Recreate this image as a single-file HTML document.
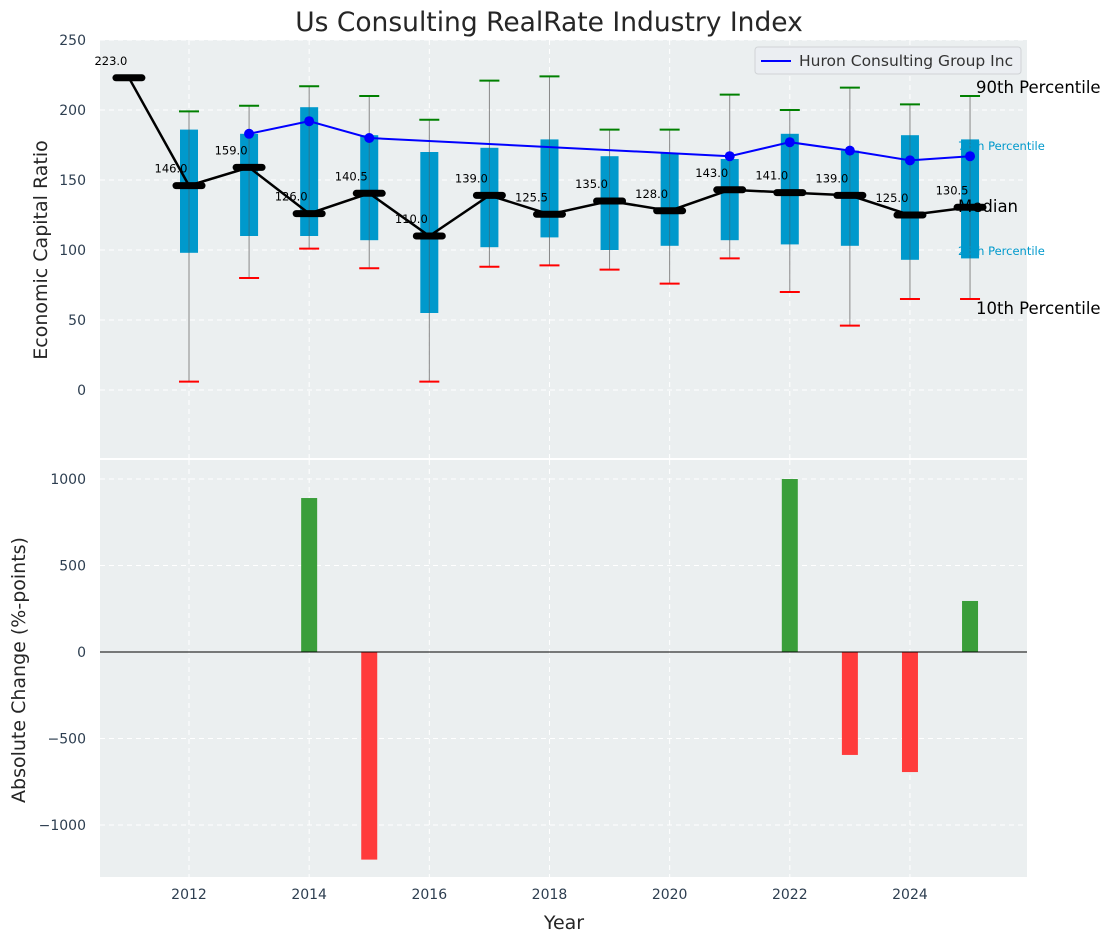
<!DOCTYPE html>
<html><head><meta charset="utf-8"><style>
body{margin:0;background:#fff;}
svg{display:block;font-family:"DejaVu Sans","Liberation Sans",sans-serif;}
</style></head><body>
<svg id="chart" width="1111" height="942" xmlns="http://www.w3.org/2000/svg"></svg>
<script>
const years=[2011,2012,2013,2014,2015,2016,2017,2018,2019,2020,2021,2022,2023,2024,2025];
const medians=[223,146,159,126,140.5,110,139,125.5,135,128,143,141,139,125,130.5];
const p25=[null,98,110,110,107,55,102,109,100,103,107,104,103,93,94];
const p75=[null,186,183,202,182,170,173,179,167,169,165,183,171,182,179];
const p90=[null,199,203,217,210,193,221,224,186,186,211,200,216,204,210];
const p10=[null,6,80,101,87,6,88,89,86,76,94,70,46,65,65];
const huronYears=[2013,2014,2015,2021,2022,2023,2024,2025];
const huronVals=[183,192,180,167,177,171,164,167];
const changeYears=[2014,2015,2022,2023,2024,2025];
const changeVals=[890,-1200,1000,-595,-694,295];
const topTicks=[0,50,100,150,200,250];
const botTicks=[-1000,-500,0,500,1000];
const xTicks=[2012,2014,2016,2018,2020,2022,2024];

const NS="http://www.w3.org/2000/svg";
const svg=document.getElementById('chart');
function el(tag,attrs,parent){const e=document.createElementNS(NS,tag);for(const k in attrs)e.setAttribute(k,attrs[k]);(parent||svg).appendChild(e);return e;}
const X0=100,X1=1027;
const x=v=>189+(v-2012)*60.08;
const yT=v=>390-v*1.4;
const yB=v=>652-v*0.173;

let t=el('text',{x:549,y:31,'text-anchor':'middle','font-size':26.5,fill:'#262626'});t.textContent='Us Consulting RealRate Industry Index';



let p1=el('rect',{x:X0,y:40,width:X1-X0,height:418,fill:'#ebeff0'});


let p2=el('rect',{x:X0,y:460,width:X1-X0,height:417,fill:'#ebeff0'});



xTicks.forEach(v=>{
  el('line',{x1:x(v),x2:x(v),y1:40,y2:458,stroke:'#fff','stroke-dasharray':'5,4','stroke-width':1});
  el('line',{x1:x(v),x2:x(v),y1:460,y2:877,stroke:'#fff','stroke-dasharray':'5,4','stroke-width':1});
  let tl=el('text',{x:x(v),y:899,'text-anchor':'middle','font-size':14,fill:'#2d3e50'});tl.textContent=v;
  
  
});
topTicks.forEach(v=>{
  el('line',{x1:X0,x2:X1,y1:yT(v),y2:yT(v),stroke:'#fff','stroke-dasharray':'5,4'});
  let tl=el('text',{x:86,y:yT(v)+5,'text-anchor':'end','font-size':14,fill:'#2d3e50'});tl.textContent=v;
  
  
});
botTicks.forEach(v=>{
  el('line',{x1:X0,x2:X1,y1:yB(v),y2:yB(v),stroke:'#fff','stroke-dasharray':'5,4'});
  let tl=el('text',{x:86,y:yB(v)+5,'text-anchor':'end','font-size':14,fill:'#2d3e50'});tl.textContent=v<0?'\u2212'+Math.abs(v):v;
  
  
});

years.forEach((yr,i)=>{
  if(p25[i]===null)return;
  const cx=x(yr);
  el('line',{x1:cx,x2:cx,y1:yT(p90[i]),y2:yT(p10[i]),stroke:'#888','stroke-width':1});
  let b=el('rect',{x:cx-9,y:yT(p75[i]),width:18,height:yT(p25[i])-yT(p75[i]),fill:'#0099cc'});
  
  
  el('line',{x1:cx,x2:cx,y1:yT(p75[i]),y2:yT(p25[i]),stroke:'#555','stroke-width':1,opacity:0.5});
  let g=el('line',{x1:cx-10,x2:cx+10,y1:yT(p90[i]),y2:yT(p90[i]),stroke:'green','stroke-width':2});
  
  
  let r=el('line',{x1:cx-10,x2:cx+10,y1:yT(p10[i]),y2:yT(p10[i]),stroke:'red','stroke-width':2});
  
  
});

let hl=el('polyline',{points:huronYears.map((yr,i)=>x(yr)+','+yT(huronVals[i])).join(' '),fill:'none',stroke:'blue','stroke-width':2});


huronYears.forEach((yr,i)=>{
  let c=el('circle',{cx:x(yr),cy:yT(huronVals[i]),r:5,fill:'blue'});
  
  
});

let ml=el('polyline',{points:years.map((yr,i)=>x(yr)+','+yT(medians[i])).join(' '),fill:'none',stroke:'#000','stroke-width':2.5});


years.forEach((yr,i)=>{
  let m=el('line',{x1:x(yr)-13,x2:x(yr)+13,y1:yT(medians[i]),y2:yT(medians[i]),stroke:'#000','stroke-width':7,'stroke-linecap':'round'});
  
  
  let l=el('text',{x:x(yr)-18,y:yT(medians[i])-13,'text-anchor':'middle','font-size':11.5,fill:'#000'});l.textContent=medians[i].toFixed(1);
  
  
});

[['90th Percentile',976,93,16.5,'#000'],['75th Percentile',958,150,11.5,'#0099cc'],['Median',958,212,16.5,'#000'],['25th Percentile',958,255,11.5,'#0099cc'],['10th Percentile',976,314,16.5,'#000']].forEach(d=>{
  let l=el('text',{x:d[1],y:d[2],'font-size':d[3],fill:d[4]});l.textContent=d[0];
  
  
});

let lg=el('g',{});


el('rect',{x:755,y:47,width:266,height:27,rx:3,fill:'#ebeef2',stroke:'#d0d3d6'},lg);
el('line',{x1:761,x2:791,y1:61,y2:61,stroke:'blue','stroke-width':2},lg);
let lt=el('text',{x:799,y:66,'font-size':15.5,fill:'#333'},lg);lt.textContent='Huron Consulting Group Inc';

changeYears.forEach((yr,i)=>{
  const v=changeVals[i];
  let b=el('rect',{x:x(yr)-8,y:Math.min(yB(v),yB(0)),width:16,height:Math.abs(yB(v)-yB(0)),fill:v>=0?'#3a9e3a':'#ff3b3b'});
  
  
});
el('line',{x1:X0,x2:X1,y1:yB(0),y2:yB(0),stroke:'#000','stroke-width':1});

let a1=el('text',{x:0,y:0,'text-anchor':'middle','font-size':19,fill:'#262626',transform:'translate(47,250) rotate(-90)'});a1.textContent='Economic Capital Ratio';


let a2=el('text',{x:0,y:0,'text-anchor':'middle','font-size':19,fill:'#262626',transform:'translate(25,670) rotate(-90)'});a2.textContent='Absolute Change (%-points)';


let a3=el('text',{x:564,y:929,'text-anchor':'middle','font-size':19,fill:'#262626'});a3.textContent='Year';


</script>
</body></html>
